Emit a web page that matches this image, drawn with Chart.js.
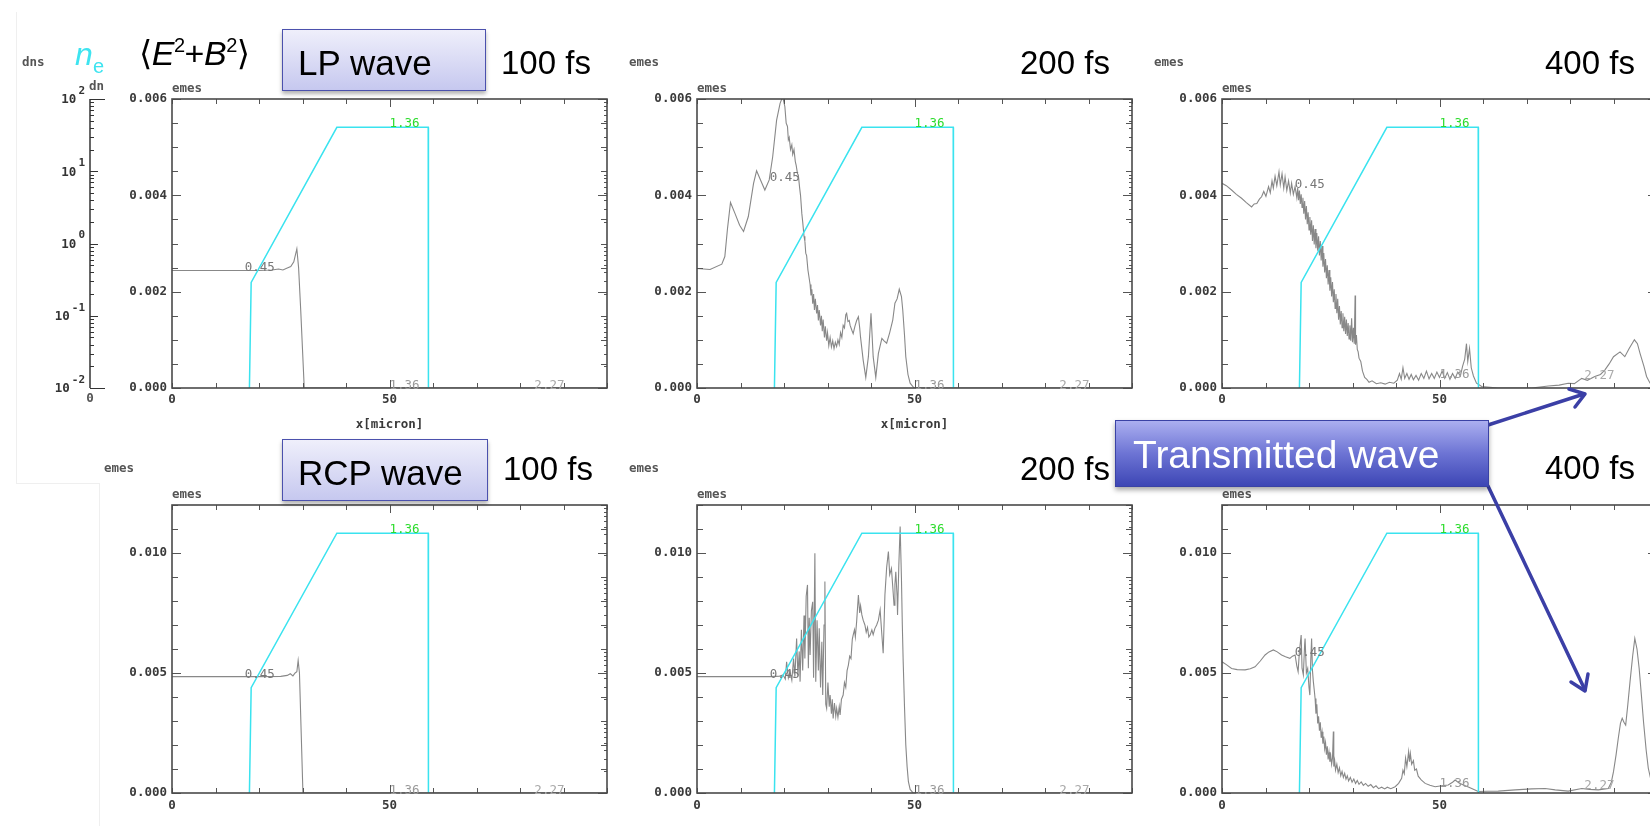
<!DOCTYPE html>
<html lang="en">
<head>
<meta charset="utf-8">
<title>LP / RCP wave - emes and ne</title>
<script src="https://cdn.jsdelivr.net/npm/chart.js@4.4.1/dist/chart.umd.min.js"></script>
<style>
  html, body { margin: 0; padding: 0; background: #fff; }
  body { position: relative; width: 1650px; height: 826px; overflow: hidden; font-family: "Liberation Sans", Arial, sans-serif; }
  canvas { position: absolute; }
  .t { position: absolute; white-space: nowrap; line-height: 1; color: #000; }
  .mono { font: bold 12.5px "DejaVu Sans Mono", monospace; color: #555; }
  .sup { font-size: 20px; position: relative; top: -13px; }
  .box { position: absolute; box-sizing: border-box; }
  .pale { border: 1.5px solid #4b51ad; background: linear-gradient(#efeffb, #c6c8ef); box-shadow: 0 3px 4px rgba(0,0,0,.3); }
  .deep { border: 1px solid #3a42a5; background: linear-gradient(#abaff0, #6d74d4 50%, #3d46b5); box-shadow: 0 3px 5px rgba(0,0,0,.35); }
  .faint { position: absolute; background: #efefef; }
</style>
</head>
<body>
<div class="faint" style="left:16px;top:12px;width:1px;height:471px"></div>
<div class="faint" style="left:16px;top:483px;width:83px;height:1px"></div>
<div class="faint" style="left:99px;top:483px;width:1px;height:343px"></div>

<div id="plots"></div>

<!-- header, top row -->
<div class="t mono" style="left:22px;top:54px">dns</div>
<div class="t" style="left:75px;top:38px;font-size:32px;font-style:italic;color:#3ee4f0">n</div>
<div class="t" style="left:93px;top:56px;font-size:20px;color:#3ee4f0">e</div>
<div class="t" style="left:139px;top:36px;font-size:34px;letter-spacing:-0.5px"><span style="font-family:'DejaVu Sans'">&#10216;</span><i>E</i><span class="sup">2</span>+<i>B</i><span class="sup">2</span><span style="font-family:'DejaVu Sans'">&#10217;</span></div>

<div class="box pale" style="left:282px;top:29px;width:204px;height:62px"></div>
<div class="t" style="left:298px;top:45px;font-size:35px">LP wave</div>
<div class="t" style="left:501px;top:46px;font-size:33px">100 fs</div>
<div class="t" style="left:1020px;top:46px;font-size:33px">200 fs</div>
<div class="t" style="left:1545px;top:46px;font-size:33px">400 fs</div>

<!-- bottom row -->
<div class="box pale" style="left:282px;top:439px;width:206px;height:62px"></div>
<div class="t" style="left:298px;top:455px;font-size:35px">RCP wave</div>
<div class="t" style="left:503px;top:452px;font-size:33px">100 fs</div>
<div class="t" style="left:1020px;top:452px;font-size:33px">200 fs</div>
<div class="t" style="left:1545px;top:451px;font-size:33px">400 fs</div>

<svg style="position:absolute;left:0;top:0" width="1650" height="826">
  <g stroke="#3b3fa6" stroke-width="3.5" fill="none" stroke-linecap="round" stroke-linejoin="round">
    <line x1="1488" y1="425" x2="1584" y2="394"/>
    <polyline points="1569,389 1585,394 1575,407"/>
    <line x1="1488" y1="486" x2="1585" y2="690"/>
    <polyline points="1588,674 1585,691 1571,682"/>
  </g>
</svg>
<div class="box deep" style="left:1115px;top:420px;width:374px;height:67px"></div>
<div class="t" style="left:1133px;top:435px;font-size:39px;color:#fff">Transmitted wave</div>

<script>
// x positions in micron, emes in units of 1e-3, n_e on the log axis
const xTicks = [0, 10, 20, 30, 40, 50, 60, 70, 80, 90, 100];
const xTickLabels = [0, 50];
const topYLabels = [0, 0.002, 0.004, 0.006];
const botYLabels = [0, 0.005, 0.010];
const logDecades = [-2, -1, 0, 1, 2];
const markX = [16.7, 50, 83.3];
const markText = ['0.45', '1.36', '2.27'];
const markColor = ['#777', '#9a9a9a', '#aaa'];

// electron density profile (same in every panel)
const cyanX = [17.8, 18.2, 37.9, 58.9, 58.95];
const cyanN = [0.01, 0.29, 40.6, 40.6, 0.01];

// <E^2+B^2>, LP wave
const lp100 = [[0,2.44],[5,2.44],[10,2.44],[15,2.44],[20,2.44],[23,2.45],[24.5,2.47],[25.5,2.45],[26.5,2.49],
  [27.3,2.52],[28.0,2.62],[28.7,2.89],[29.1,2.50],[29.6,1.60],[30.0,0.80],[30.4,0],[100,0]];

const lp200 = [[0,2.48],[3.0,2.46],[5.7,2.57],[6.4,2.73],[7.0,3.3],[7.7,3.85],[8.7,3.63],[9.8,3.38],[10.7,3.25],
  [11.8,3.56],[13.0,4.25],[13.7,4.51],[14.6,4.32],[15.6,4.11],[16.6,4.32],[17.4,4.80],[18.3,5.56],[19.1,5.91],
  [19.7,6.05],[20.2,5.84],[20.5,5.50],[20.8,5.43],[21.0,5.15],[21.2,5.20],[21.5,4.95],[21.8,5.05],[22.0,4.85],
  [22.3,4.95],[22.6,4.70],[22.8,4.62],[23.1,4.45],[23.3,4.42],[23.6,4.15],[23.8,4.00],[24.1,3.62],[24.3,3.45],
  [24.6,3.15],[24.8,3.05],[25.0,2.80],[25.2,2.75],[25.5,2.45],[25.7,2.33],[26.0,2.15],[26.2,1.92],[26.4,2.05],
  [26.6,1.75],[26.8,1.95],[27.0,1.62],[27.2,1.85],[27.5,1.55],[27.7,1.72],[27.9,1.40],[28.1,1.62],[28.4,1.30],
  [28.6,1.50],[28.8,1.18],[29.0,1.42],[29.3,1.05],[29.5,1.28],[29.8,0.98],[30.0,1.15],[30.3,0.88],[30.6,1.05],
  [30.9,0.85],[31.2,0.98],[31.5,0.82],[31.8,0.95],[32.1,0.86],[32.4,1.00],[32.7,0.90],[33.0,1.15],[33.3,1.05],
  [33.6,1.30],[33.9,1.25],[34.2,1.52],[34.4,1.55],[34.7,1.38],[35.0,1.40],[35.2,1.30],[35.6,1.20],[35.9,1.13],
  [36.3,1.28],[36.7,1.40],[37.1,1.48],[37.4,1.25],[37.6,1.05],[38.2,0.58],[38.8,0.22],[39.4,0.65],[40.0,1.55],
  [40.5,0.65],[41.1,0.22],[41.7,0.72],[42.5,1.03],[43.0,0.98],[43.6,0.93],[44.3,1.15],[45.0,1.41],[45.5,1.76],
  [46.0,1.85],[46.5,2.05],[47.0,1.90],[47.3,1.62],[47.7,1.10],[48.0,0.65],[48.5,0.28],[49.0,0.10],[49.9,0],[100,0]];

const lp400 = [[0,4.25],[1.0,4.20],[2.2,4.11],[3.3,4.02],[4.5,3.94],[5.6,3.85],[6.8,3.76],[7.4,3.82],[8.0,3.83],
  [8.6,3.92],[9.1,3.97],[9.6,4.08],[10.1,3.98],[10.7,4.18],[11.1,4.05],[11.5,4.30],[11.8,4.15],[12.2,4.40],
  [12.6,4.20],[13.1,4.49],[13.4,4.22],[13.8,4.45],[14.2,4.15],[14.5,4.38],[14.9,4.10],[15.3,4.30],[15.7,4.05],
  [16.0,4.25],[16.4,4.02],[16.8,4.18],[17.2,3.95],[17.4,4.15],[17.6,3.90],[17.8,4.10],[18.0,3.82],[18.2,4.02],
  [18.4,3.75],[18.6,3.95],[18.8,3.62],[19.0,3.88],[19.2,3.50],[19.4,3.78],[19.6,3.40],[19.8,3.65],[20.0,3.28],
  [20.2,3.55],[20.4,3.18],[20.6,3.48],[20.8,3.05],[21.0,3.38],[21.2,2.98],[21.4,3.30],[21.6,2.90],[21.8,3.22],
  [22.0,2.85],[22.2,3.15],[22.4,2.75],[22.6,3.05],[22.8,2.65],[23.0,2.95],[23.2,2.52],[23.4,2.80],[23.6,2.40],
  [23.8,2.68],[24.0,2.28],[24.2,2.55],[24.4,2.15],[24.6,2.45],[24.8,2.02],[25.0,2.30],[25.2,1.90],[25.4,2.20],
  [25.6,1.78],[25.8,2.05],[26.0,1.65],[26.2,1.95],[26.4,1.55],[26.6,1.85],[26.8,1.42],[27.0,1.70],[27.2,1.32],
  [27.4,1.60],[27.6,1.25],[27.8,1.55],[28.0,1.18],[28.2,1.48],[28.4,1.12],[28.6,1.42],[28.8,1.08],[29.0,1.35],
  [29.2,1.02],[29.4,1.30],[29.6,0.98],[29.8,1.45],[30.0,0.95],[30.2,1.25],[30.4,0.92],[30.6,1.92],[30.7,0.90],
  [30.9,1.10],[31.1,0.80],[31.3,0.75],[31.5,0.62],[31.9,0.55],[32.3,0.35],[32.8,0.22],
  [33.3,0.18],[33.8,0.12],[34.5,0.15],[35.5,0.09],[36.5,0.11],[37.5,0.08],[38.5,0.12],[39.5,0.10],[40.3,0.16],
  [40.8,0.30],[41.2,0.18],[41.6,0.42],[42.0,0.20],[42.5,0.30],[43.0,0.18],[43.5,0.28],[44.0,0.17],[44.6,0.26],
  [45.2,0.16],[45.8,0.30],[46.4,0.20],[47.0,0.35],[47.6,0.19],[48.2,0.30],[48.8,0.20],[49.4,0.33],[50.0,0.22],
  [50.6,0.35],[51.2,0.20],[51.8,0.32],[52.4,0.18],[53.0,0.30],[53.6,0.20],[54.2,0.33],[54.8,0.25],[55.3,0.45],
  [55.8,0.60],[56.2,0.92],[56.5,0.55],[56.9,0.82],[57.3,0.42],[57.8,0.25],[58.5,0.10],[59.7,0.03],[63.5,0],
  [71.2,0],[75.0,0.04],[77.5,0.06],[79.6,0.10],[81.0,0.09],[82.7,0.20],[84.0,0.16],[85.7,0.24],[87.0,0.28],
  [88.0,0.37],[89.0,0.50],[90.0,0.65],[91.5,0.75],[92.6,0.65],[93.6,0.82],[94.8,1.00],[95.5,0.92],[96.1,0.72],
  [97.0,0.45],[97.6,0.24],[98.4,0.10],[100,0.04]];

// <E^2+B^2>, RCP wave
const rcp100 = [[0,4.85],[10,4.85],[20,4.85],[25,4.86],[26.5,4.90],[27.2,4.97],[27.8,4.88],[28.3,5.00],[28.7,5.05],
  [29.0,5.52],[29.3,5.00],[29.7,2.50],[30.1,0],[100,0]];

const rcp200 = [[0,4.85],[10,4.85],[16.8,4.85],[19.0,4.87],[19.8,4.92],[20.3,4.75],[20.6,5.47],[21.0,4.80],[21.4,5.05],
  [21.8,4.70],[22.2,5.60],[22.5,4.85],[22.9,6.44],[23.2,4.90],[23.5,5.90],[23.7,4.64],[24.0,6.80],[24.3,5.10],
  [24.6,7.40],[24.8,5.60],[25.1,8.20],[25.4,8.67],[25.6,5.20],[25.8,7.30],[26.0,5.75],[26.3,7.60],[26.6,7.97],
  [26.8,4.80],[27.1,9.99],[27.3,4.64],[27.6,7.20],[27.9,5.10],[28.1,6.86],[28.4,4.40],[28.7,6.30],[28.9,4.08],
  [29.2,7.00],[29.4,8.81],[29.6,3.70],[29.8,3.53],[30.1,4.60],[30.4,3.60],[30.6,4.08],[30.9,3.30],[31.1,3.90],
  [31.3,3.11],[31.6,3.75],[31.9,3.20],[32.1,3.53],[32.4,3.15],[32.7,3.60],[32.9,3.25],[33.2,3.90],[33.6,4.08],
  [33.9,4.60],[34.2,4.40],[34.5,5.10],[34.8,5.33],[35.1,5.70],[35.4,5.60],[35.7,6.40],[35.9,6.58],[36.2,6.80],
  [36.4,6.50],[36.7,7.14],[37.1,8.25],[37.4,7.50],[37.6,7.80],[37.9,7.42],[38.2,7.20],[38.6,7.00],[38.9,6.70],
  [39.2,6.90],[39.5,6.50],[39.8,6.58],[40.2,6.80],[40.5,6.60],[40.9,6.86],[41.3,7.00],[41.7,7.20],[42.1,7.63],
  [42.5,6.58],[42.8,5.82],[43.2,8.25],[43.6,9.40],[44.0,10.06],[44.3,9.10],[44.7,9.36],[45.0,8.60],[45.3,7.83],
  [45.5,8.70],[45.7,9.22],[46.0,8.20],[46.1,7.42],[46.4,9.50],[46.7,11.1],[47.0,8.94],[47.2,7.00],[47.4,5.47],
  [47.7,3.60],[48.0,2.00],[48.3,1.10],[48.6,0.47],[49.0,0.15],[49.7,0],[100,0]];

const rcp400 = [[0,5.47],[1.0,5.35],[2.2,5.19],[3.5,5.14],[5.3,5.13],[6.5,5.18],[7.6,5.26],[8.8,5.50],[9.9,5.75],
  [10.8,5.88],[11.8,5.96],[12.7,5.88],[13.7,5.75],[14.6,5.68],[15.6,5.61],[16.2,5.70],[16.8,5.75],[17.2,5.30],
  [17.5,5.06],[17.8,5.90],[18.2,6.58],[18.4,5.20],[18.7,4.92],[19.0,6.20],[19.1,6.44],[19.4,5.00],[19.7,5.19],
  [20.0,4.40],[20.2,4.08],[20.4,5.50],[20.6,6.44],[20.8,5.10],[21.0,4.64],[21.2,4.30],[21.4,3.94],[21.6,3.30],
  [21.8,3.70],[22.0,2.90],[22.2,3.20],[22.4,2.60],[22.6,2.95],[22.8,2.30],[23.0,2.55],[23.2,2.05],[23.4,2.35],
  [23.6,1.85],[23.8,2.10],[24.0,1.60],[24.2,1.95],[24.4,1.40],[24.6,1.70],[24.8,1.30],[25.0,1.55],[25.2,1.20],
  [25.4,1.45],[25.6,2.56],[25.7,1.10],[25.9,1.35],[26.1,0.95],[26.4,1.20],[26.7,0.85],[27.0,1.05],[27.3,0.72],
  [27.6,0.90],[27.9,0.65],[28.2,0.82],[28.5,0.58],[28.8,0.72],[29.1,0.50],[29.5,0.65],[29.9,0.45],[30.3,0.58],
  [30.7,0.40],[31.1,0.52],[31.5,0.36],[32.0,0.46],[32.5,0.32],[33.0,0.40],[33.6,0.28],[34.2,0.35],[34.8,0.22],
  [35.4,0.30],[36.0,0.18],[36.7,0.24],[37.4,0.17],[38.0,0.24],[38.8,0.18],[39.8,0.26],[40.6,0.40],[41.3,0.61],
  [41.6,0.95],[41.9,0.80],[42.2,1.45],[42.5,1.10],[42.9,1.72],[43.1,1.30],[43.3,1.65],[43.6,1.20],[44.0,1.35],
  [44.3,0.95],[44.7,1.00],[45.1,0.70],[45.8,0.55],[46.7,0.40],[47.8,0.32],[49.0,0.26],[50.5,0.30],[52.0,0.33],
  [53.0,0.45],[53.6,0.54],[54.5,0.42],[55.5,0.33],[56.5,0.26],[57.4,0.19],[58.9,0.06],[61.0,0.07],[63.5,0.08],
  [67.4,0.13],[71.2,0.17],[74.3,0.19],[76.6,0.13],[79.6,0.08],[82.7,0.19],[84.5,0.15],[86.5,0.13],[88.8,0.19],
  [89.5,0.45],[90.0,0.89],[90.6,1.60],[91.1,2.28],[91.6,2.90],[92.0,3.11],[92.4,2.95],[92.8,2.83],[93.3,3.70],
  [93.8,4.64],[94.4,5.70],[94.9,6.44],[95.4,6.00],[95.9,5.19],[96.4,4.10],[96.9,2.97],[97.5,1.80],[98.0,1.03],
  [98.6,0.55],[99.2,0.33],[100,0.20]];

const panels = [
  { row: 0, col: 0, pts: lp100 },
  { row: 0, col: 1, pts: lp200 },
  { row: 0, col: 2, pts: lp400 },
  { row: 1, col: 0, pts: rcp100 },
  { row: 1, col: 1, pts: rcp200 },
  { row: 1, col: 2, pts: rcp400 }
];

const MONO = "'DejaVu Sans Mono', monospace";
const CYAN = '#3ae3ef';
const GRAY = '#888888';
const colLeft = [172, 697, 1222];
const rowTop = [99, 505];
const rowH = [289, 288];
const PW = 435;
const PAD = { left: 80, top: 45, right: 12, bottom: 45 };

function nearestVal(pts, x) {
  let best = pts[0];
  pts.forEach(p => { if (Math.abs(p[0] - x) < Math.abs(best[0] - x)) best = p; });
  return best[1] * 1e-3;
}

const framePlugin = {
  id: 'frame',
  afterDraw(chart, args, o) {
    const { ctx, chartArea: a, scales: { x, y, yn } } = chart;
    const px = v => x.getPixelForValue(v), py = v => y.getPixelForValue(v);
    ctx.save();

    // inward ticks
    ctx.strokeStyle = '#555';
    ctx.lineWidth = 1;
    ctx.beginPath();
    xTicks.forEach(v => {
      const X = Math.round(px(v)) + 0.5, len = v === 50 ? 8 : 5;
      ctx.moveTo(X, a.bottom); ctx.lineTo(X, a.bottom - len);
      ctx.moveTo(X, a.top); ctx.lineTo(X, a.top + len);
    });
    const n = Math.round(o.yMax / o.yStep);
    for (let k = 0; k <= n; k++) {
      const v = k * o.yStep, Y = Math.round(py(v)) + 0.5;
      const major = o.yLabels.some(l => Math.abs(l - v) < 1e-9);
      const len = major ? 9 : 6;
      ctx.moveTo(a.left, Y); ctx.lineTo(a.left + len, Y);
      ctx.moveTo(a.right, Y); ctx.lineTo(a.right - len, Y);
    }
    // log ticks of the density axis on the right side
    logDecades.forEach(e => {
      if (e === 2) return;
      for (let m = 2; m <= 9; m++) {
        const Y = Math.round(yn.getPixelForValue(m * Math.pow(10, e))) + 0.5;
        ctx.moveTo(a.right, Y); ctx.lineTo(a.right - 3, Y);
      }
    });
    ctx.stroke();

    // frame
    ctx.strokeStyle = '#4a4a4a';
    ctx.lineWidth = 1.6;
    ctx.strokeRect(a.left, a.top, a.right - a.left, a.bottom - a.top);

    // axis labels
    ctx.fillStyle = '#3a3a3a';
    ctx.font = 'bold 12.5px ' + MONO;
    ctx.textBaseline = 'middle';
    ctx.textAlign = 'right';
    o.yLabels.forEach(v => ctx.fillText(v.toFixed(3), a.left - 5, py(v)));
    ctx.textAlign = 'center';
    xTickLabels.forEach(v => ctx.fillText(String(v), px(v), a.bottom + 12 + o.row));
    if (o.xTitle) ctx.fillText('x[micron]', (a.left + a.right) / 2, a.bottom + 37);
    ctx.fillStyle = '#555';
    ctx.textAlign = 'left';
    ctx.fillText('emes', a.left, a.top - 10);
    if (o.orphan) ctx.fillText('emes', a.left - 68, a.top - 36);

    // contour marks
    ctx.font = '12.5px ' + MONO;
    ctx.textBaseline = 'alphabetic';
    markX.forEach((mx, i) => {
      ctx.fillStyle = markColor[i];
      ctx.fillText(markText[i], px(mx), py(nearestVal(o.pts, mx)) + 1);
    });
    ctx.fillStyle = '#2edc2e';
    ctx.fillText(markText[1], px(markX[1]), yn.getPixelForValue(Math.max(...cyanN)));
    ctx.restore();
  }
};

const dnPlugin = {
  id: 'dnAxis',
  afterDraw(chart) {
    const { ctx, chartArea: a, scales: { y } } = chart;
    ctx.save();
    ctx.strokeStyle = '#333';
    ctx.lineWidth = 1.5;
    ctx.beginPath();
    ctx.moveTo(a.left, a.top); ctx.lineTo(a.left, a.bottom);
    ctx.stroke();
    ctx.lineWidth = 1;
    ctx.beginPath();
    logDecades.forEach(e => {
      const Y = Math.round(y.getPixelForValue(Math.pow(10, e))) + 0.5;
      const len = (e === 2 || e === -2) ? 15 : 8;
      ctx.moveTo(a.left, Y); ctx.lineTo(a.left + len, Y);
      if (e < 2) {
        for (let m = 2; m <= 9; m++) {
          const q = Math.round(y.getPixelForValue(m * Math.pow(10, e))) + 0.5;
          ctx.moveTo(a.left, q); ctx.lineTo(a.left + 4, q);
        }
      }
    });
    ctx.stroke();

    ctx.fillStyle = '#333';
    ctx.textBaseline = 'middle';
    ctx.textAlign = 'left';
    logDecades.forEach(e => {
      const Y = y.getPixelForValue(Math.pow(10, e));
      ctx.font = 'bold 11px ' + MONO;
      const sup = String(e), ws = ctx.measureText(sup).width;
      ctx.fillText(sup, a.left - 5 - ws, Y - 8);
      ctx.font = 'bold 12.5px ' + MONO;
      const wb = ctx.measureText('10').width;
      ctx.fillText('10', a.left - 7 - ws - wb, Y + 1);
    });
    ctx.fillStyle = '#555';
    ctx.fillText('dn', a.left - 1, a.top - 12);
    ctx.textAlign = 'center';
    ctx.fillText('0', a.left, a.bottom + 11);
    ctx.restore();
  }
};

// density axis on the far left
const dnCanvas = document.createElement('canvas');
dnCanvas.width = 140;
dnCanvas.height = 360;
dnCanvas.style.left = '0px';
dnCanvas.style.top = '60px';
document.getElementById('plots').appendChild(dnCanvas);
new Chart(dnCanvas, {
  type: 'line',
  data: { datasets: [] },
  options: {
    responsive: false, animation: false, devicePixelRatio: 1, events: [],
    layout: { padding: { left: 90, top: 39, right: 30, bottom: 32 } },
    plugins: { legend: { display: false }, tooltip: { enabled: false } },
    scales: {
      x: { type: 'linear', min: 0, max: 1, display: false },
      y: { type: 'logarithmic', min: 0.01, max: 100, display: false }
    }
  },
  plugins: [dnPlugin]
});

panels.forEach(p => {
  const L = colLeft[p.col], T = rowTop[p.row], H = rowH[p.row];
  const cv = document.createElement('canvas');
  cv.width = PW + PAD.left + PAD.right;
  cv.height = H + PAD.top + PAD.bottom;
  cv.style.left = (L - PAD.left) + 'px';
  cv.style.top = (T - PAD.top) + 'px';
  document.getElementById('plots').appendChild(cv);

  const yMax = p.row === 0 ? 0.006 : 0.012;
  new Chart(cv, {
    type: 'line',
    data: {
      datasets: [
        { data: cyanX.map((x, i) => ({ x: x, y: cyanN[i] })), yAxisID: 'yn',
          borderColor: CYAN, borderWidth: 1.5, pointRadius: 0, tension: 0 },
        { data: p.pts.map(q => ({ x: q[0], y: q[1] * 1e-3 })), yAxisID: 'y',
          borderColor: GRAY, borderWidth: 1.1, pointRadius: 0, tension: 0 }
      ]
    },
    options: {
      responsive: false, animation: false, devicePixelRatio: 1, events: [],
      layout: { padding: PAD },
      plugins: {
        legend: { display: false }, tooltip: { enabled: false },
        frame: {
          row: p.row, pts: p.pts, yMax: yMax,
          yStep: p.row === 0 ? 0.0005 : 0.001,
          yLabels: p.row === 0 ? topYLabels : botYLabels,
          orphan: !(p.row === 0 && p.col === 0),
          xTitle: p.row === 0 && p.col < 2
        }
      },
      scales: {
        x: { type: 'linear', min: 0, max: 100, display: false },
        y: { type: 'linear', min: 0, max: yMax, display: false },
        yn: { type: 'logarithmic', min: 0.01, max: 100, display: false }
      }
    },
    plugins: [framePlugin]
  });
});
</script>
</body>
</html>
